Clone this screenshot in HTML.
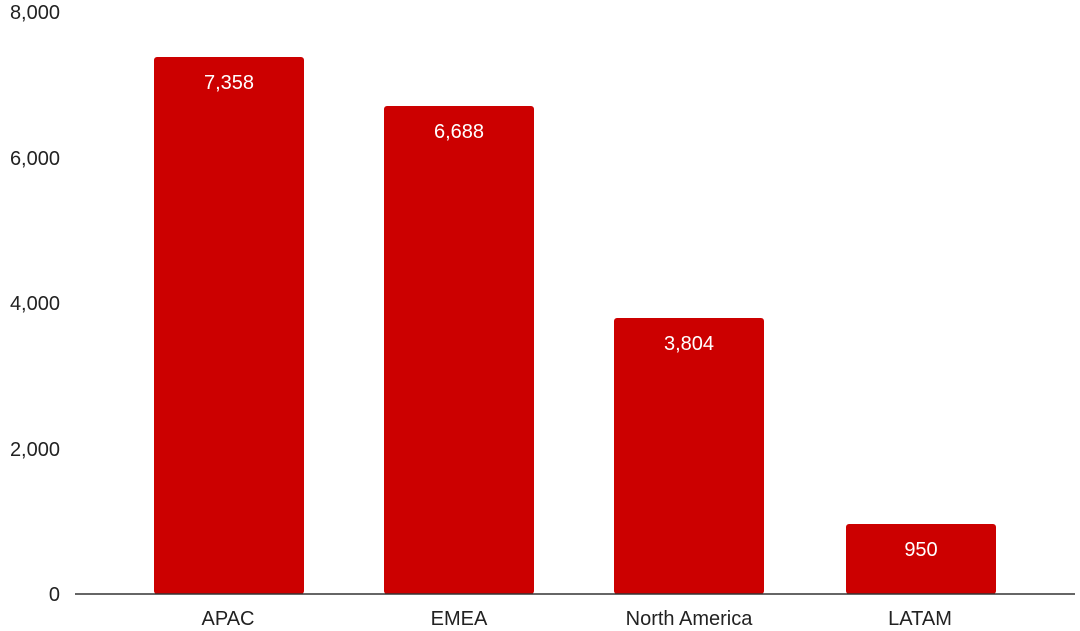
<!DOCTYPE html>
<html><head><meta charset="utf-8"><style>
html,body{margin:0;padding:0;background:#fff;width:1080px;height:631px;overflow:hidden}
svg text{font-family:"Liberation Sans",Arial,sans-serif}
</style></head><body>
<svg width="1080" height="631" viewBox="0 0 1080 631" xmlns="http://www.w3.org/2000/svg">
<g font-size="20" fill="#222" text-anchor="end">
<text x="60" y="19">8,000</text>
<text x="60" y="165">6,000</text>
<text x="60" y="310">4,000</text>
<text x="60" y="456">2,000</text>
<text x="60" y="601">0</text>
</g>
<g fill="#cc0000">
<rect x="154" y="57" width="150" height="537" rx="3"/>
<rect x="384" y="106" width="150" height="488" rx="3"/>
<rect x="614" y="318" width="150" height="276" rx="3"/>
<rect x="846" y="524" width="150" height="70" rx="3"/>
</g>
<line x1="75" y1="594" x2="1075" y2="594" stroke="#333" stroke-width="1.5"/>
<g font-size="20" fill="#fff" text-anchor="middle">
<text x="229" y="89">7,358</text>
<text x="459" y="138">6,688</text>
<text x="689" y="350">3,804</text>
<text x="921" y="556">950</text>
</g>
<g font-size="20" fill="#222" text-anchor="middle">
<text x="228" y="625">APAC</text>
<text x="459" y="625">EMEA</text>
<text x="689" y="625">North America</text>
<text x="920" y="625">LATAM</text>
</g>
</svg>
</body></html>
